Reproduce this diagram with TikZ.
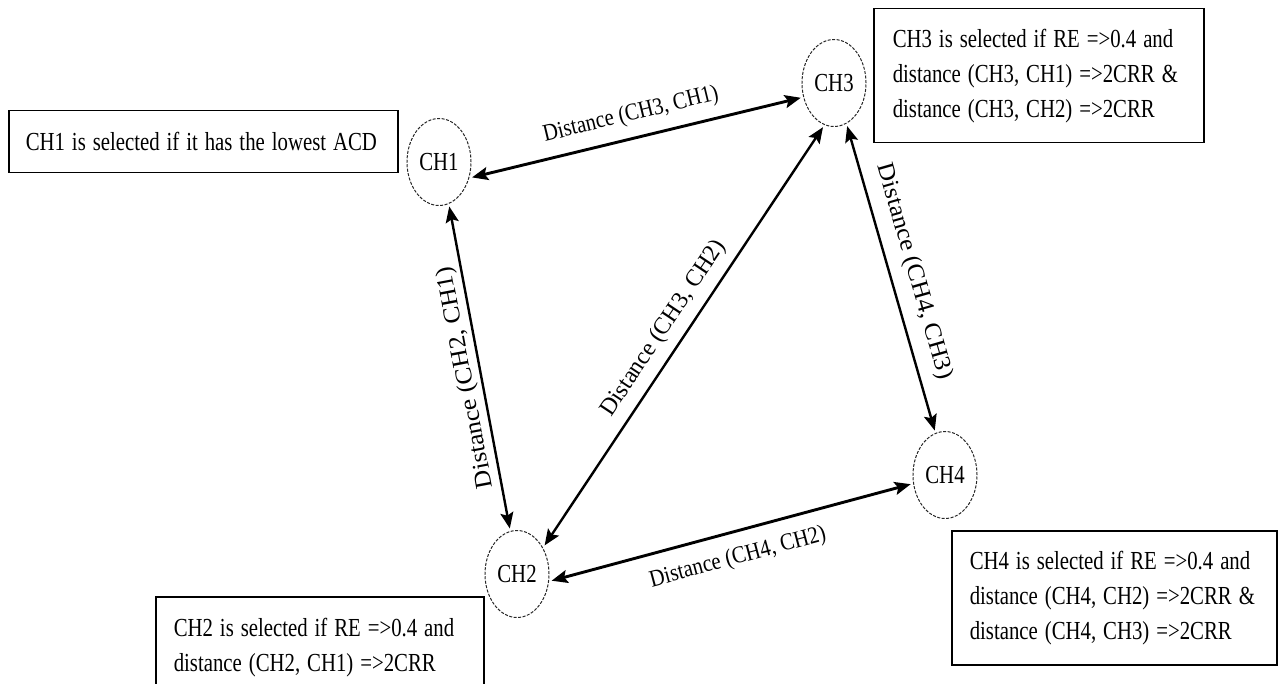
\documentclass[tikz,border=0pt]{standalone}
\usepackage{fontspec}
\setmainfont{Liberation Serif}
\usepackage{graphicx}
\usetikzlibrary{arrows.meta,shapes.geometric}
\newcommand{\narrowtext}[1]{\scalebox{0.80}[1]{#1}}
\newcommand{\lbltext}[2]{\scalebox{#1}[1]{#2}}
\begin{document}
\begin{tikzpicture}[x=1pt,y=-1pt,
  chnode/.style={ellipse, draw=black!85, dash pattern=on 3pt off 1.5pt, line width=1pt,
    minimum width=64pt, minimum height=87pt, inner sep=0pt, outer sep=3pt,
    font=\fontsize{26}{26}\selectfont},
  infobox/.style={draw, line width=1.5pt, anchor=north west, align=left,
    font=\fontsize{26}{35}\selectfont, inner ysep=0pt},
  link/.style={line width=2.4pt,
    {Stealth[length=16pt,width=13pt,inset=3pt]}-{Stealth[length=16pt,width=13pt,inset=3pt]}},
  dlabel/.style={sloped, font=\fontsize{24}{24}\selectfont, inner sep=2pt}
]
\useasboundingbox (0,0) rectangle (1279,684);
\clip (0,0) rectangle (1279,684);

% cluster heads
\node[chnode] (CH1) at (439,162) {\narrowtext{CH1}};
\node[chnode] (CH3) at (834,83) {\narrowtext{CH3}};
\node[chnode] (CH2) at (517,574) {\narrowtext{CH2}};
\node[chnode] (CH4) at (945,475) {\narrowtext{CH4}};

% condition boxes
\node[infobox, minimum width=389pt, minimum height=62pt, inner xsep=17pt, text width=355pt]
  (B1) at (8,110) {\narrowtext{CH1 is selected if it has the lowest ACD}};
\node[infobox, minimum width=330pt, minimum height=134pt, inner xsep=19pt, text width=292pt]
  (B3) at (873,8) {\narrowtext{\begin{tabular}{@{}l@{}}CH3 is selected if RE =>0.4 and\\ distance (CH3, CH1) =>2CRR \&\\ distance (CH3, CH2) =>2CRR\end{tabular}}};
\node[infobox, minimum width=325pt, minimum height=134pt, inner xsep=18pt, text width=289pt]
  (B4) at (951,530) {\narrowtext{\begin{tabular}{@{}l@{}}CH4 is selected if RE =>0.4 and\\ distance (CH4, CH2) =>2CRR \&\\ distance (CH4, CH3) =>2CRR\end{tabular}}};
\node[infobox, minimum width=328pt, minimum height=100pt, inner xsep=18pt, text width=292pt]
  (B2) at (155,596) {\narrowtext{\begin{tabular}{@{}l@{}}CH2 is selected if RE =>0.4 and\\ distance (CH2, CH1) =>2CRR\end{tabular}}};

% distance links
\draw[link, line width=2.9pt] (CH1.-25) -- node[dlabel, above=9pt] {\lbltext{0.86}{Distance (CH3, CH1)}} (CH3.204);
\draw[link] (CH2.99.5) -- node[dlabel, allow upside down, above=1pt, pos=0.477] {\lbltext{1.08}{Distance (CH2, CH1)}} (CH1.-77.6);
\draw[link] (CH2.46) -- node[dlabel, above=7pt, pos=0.49] {\lbltext{0.99}{Distance (CH3, CH2)}} (CH3.-104);
\draw[link] (CH3.-73) -- node[dlabel, above=10pt] {\lbltext{1.07}{Distance (CH4, CH3)}} (CH4.103);
\draw[link, line width=2.9pt] (CH2.-11) -- node[dlabel, below=12pt] {\lbltext{0.87}{Distance (CH4, CH2)}} (CH4.195);
\end{tikzpicture}
\end{document}
